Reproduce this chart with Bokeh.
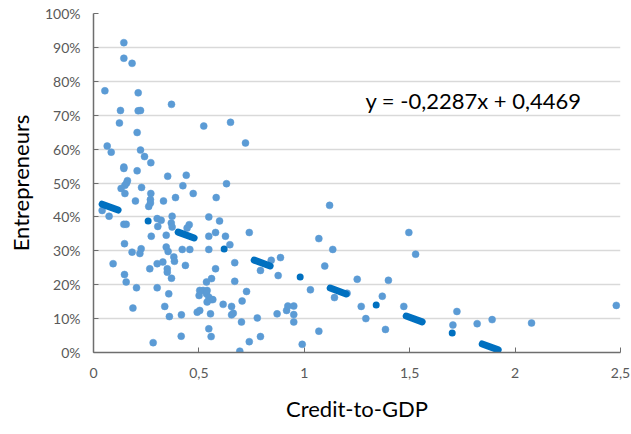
from bokeh.plotting import figure
from bokeh.models import Range1d, FixedTicker, CustomJSTickFormatter, Label, ColumnDataSource
from bokeh.embed import file_html
from bokeh.resources import INLINE

# Credit-to-GDP (x) and share of entrepreneurs (y)
credit_to_gdp = [
    0.144, 0.144, 0.183, 0.054, 0.212, 0.370, 0.128, 0.212, 0.223, 0.123,
    0.523, 0.650, 0.207, 0.721, 0.065, 0.084, 0.223, 0.242, 0.272, 0.144,
    0.144, 0.207, 0.352, 0.440, 0.631, 0.424, 0.161, 0.157, 0.149, 0.131,
    0.228, 0.149, 0.272, 0.473, 0.582, 0.199, 0.270, 0.270, 0.262, 0.332,
    0.389, 0.041, 0.074, 0.144, 0.155, 0.093, 0.147, 0.147, 0.155, 0.183,
    0.226, 0.220, 0.204, 0.187, 0.267, 0.274, 0.302, 0.321, 0.305, 0.302,
    0.329, 0.302, 0.283, 0.345, 0.345, 0.354, 0.350, 0.350, 0.370, 0.357,
    0.338, 0.360, 0.373, 0.369, 0.373, 0.381, 0.384, 0.421, 0.436, 0.417,
    0.416, 0.454, 0.444, 0.457, 0.547, 0.547, 0.547, 0.598, 0.579, 0.626,
    0.647, 0.579, 0.560, 0.536, 0.670, 0.670, 0.504, 0.520, 0.501, 0.539,
    0.536, 0.547, 0.558, 0.539, 0.566, 0.492, 0.504, 0.555, 0.547, 0.558,
    0.615, 0.655, 0.663, 0.655, 0.726, 0.705, 0.702, 0.694, 0.739, 0.739,
    0.792, 0.843, 0.887, 0.876, 0.777, 0.792, 0.871, 0.916, 0.922, 0.950,
    0.950, 0.950, 0.990, 1.029, 1.069, 1.069, 1.120, 1.135, 1.097, 1.143,
    1.203, 1.251, 1.270, 1.292, 1.370, 1.399, 1.385, 1.496, 1.528, 1.472,
    1.724, 1.705, 1.820, 1.891, 2.078, 2.480,
]
entrepreneurs = [
    0.914, 0.868, 0.853, 0.772, 0.766, 0.732, 0.714, 0.713, 0.714, 0.677,
    0.668, 0.679, 0.649, 0.618, 0.609, 0.591, 0.597, 0.578, 0.560, 0.547,
    0.543, 0.536, 0.520, 0.523, 0.498, 0.492, 0.507, 0.500, 0.493, 0.484,
    0.487, 0.469, 0.469, 0.469, 0.457, 0.447, 0.451, 0.441, 0.431, 0.447,
    0.457, 0.419, 0.402, 0.378, 0.378, 0.262, 0.321, 0.230, 0.208, 0.296,
    0.306, 0.292, 0.191, 0.131, 0.247, 0.343, 0.395, 0.390, 0.372, 0.262,
    0.267, 0.191, 0.029, 0.346, 0.311, 0.298, 0.247, 0.237, 0.219, 0.173,
    0.136, 0.106, 0.402, 0.382, 0.370, 0.282, 0.269, 0.304, 0.257, 0.111,
    0.048, 0.377, 0.367, 0.304, 0.400, 0.343, 0.304, 0.388, 0.354, 0.343,
    0.318, 0.247, 0.218, 0.208, 0.265, 0.210, 0.183, 0.183, 0.168, 0.183,
    0.173, 0.163, 0.156, 0.149, 0.156, 0.119, 0.124, 0.114, 0.070, 0.047,
    0.142, 0.136, 0.116, 0.111, 0.180, 0.152, 0.090, 0.004, 0.032, 0.354,
    0.242, 0.272, 0.280, 0.227, 0.102, 0.047, 0.114, 0.124, 0.137, 0.137,
    0.112, 0.090, 0.024, 0.185, 0.336, 0.063, 0.434, 0.304, 0.255, 0.162,
    0.175, 0.216, 0.136, 0.100, 0.166, 0.213, 0.068, 0.354, 0.290, 0.136,
    0.121, 0.081, 0.085, 0.097, 0.087, 0.139,
]

# Linear trend shown on the chart
trend_slope = -0.2287
trend_intercept = 0.4469
equation_text = "y = -0,2287x + 0,4469"

x_ticks = [0, 0.5, 1, 1.5, 2, 2.5]
y_ticks = [0, 0.1, 0.2, 0.3, 0.4, 0.5, 0.6, 0.7, 0.8, 0.9, 1.0]
x_title = "Credit-to-GDP"
y_title = "Entrepreneurs"

FONT = "Lato"

p = figure(
    width=631, height=434, output_backend="svg", toolbar_location=None,
    x_range=Range1d(0, 2.5), y_range=Range1d(0, 1),
    min_border_left=93, min_border_right=11, min_border_top=13, min_border_bottom=82,
)
p.outline_line_color = None
p.background_fill_color = "white"
p.border_fill_color = "white"

# axes
p.xaxis.ticker = FixedTicker(ticks=x_ticks)
p.yaxis.ticker = FixedTicker(ticks=y_ticks)
p.xaxis.formatter = CustomJSTickFormatter(code="return tick.toString().replace('.', ',');")
p.yaxis.formatter = CustomJSTickFormatter(code="return Math.round(tick*100) + '%';")
for ax in (p.xaxis[0], p.yaxis[0]):
    ax.axis_line_color = "#6E6E6E"
    ax.axis_line_width = 1.5
    ax.major_tick_line_color = "#6E6E6E"
    ax.major_tick_in = 5
    ax.major_tick_out = 0
    ax.minor_tick_line_color = None
    ax.major_label_text_font = FONT
    ax.major_label_text_font_size = "14px"
    ax.major_label_text_color = "#595959"
    ax.axis_label_text_font = FONT
    ax.axis_label_text_font_size = "22px"
    ax.axis_label_text_font_style = "normal"
    ax.axis_label_text_color = "#000000"
p.xaxis.axis_label = x_title
p.yaxis.axis_label = y_title
p.xaxis.major_label_standoff = 15
p.xaxis.axis_label_standoff = 14
p.yaxis.major_label_standoff = 13
p.yaxis.axis_label_standoff = 8

p.xgrid.grid_line_color = None
p.ygrid.grid_line_color = "#D9D9D9"
p.ygrid.grid_line_width = 1.5

# scatter
src = ColumnDataSource(data=dict(x=credit_to_gdp, y=entrepreneurs))
p.scatter("x", "y", source=src, size=7, fill_color="#5B9BD5", line_color="#5B9BD5", line_width=0.5)

# trend line from smallest x to where it reaches 0
x_start = min(credit_to_gdp)
x_end = -trend_intercept / trend_slope
p.line([x_start, x_end],
       [trend_slope * x_start + trend_intercept, trend_slope * x_end + trend_intercept],
       line_color="#0070C0", line_width=7, line_cap="round", line_dash="17 32 0 32")

p.add_layout(Label(x=1.29, y=0.744, text=equation_text, text_font=FONT,
                   text_font_size="22px", text_color="#000000", text_baseline="middle"))

open("out.html", "w").write(file_html(p, INLINE))
